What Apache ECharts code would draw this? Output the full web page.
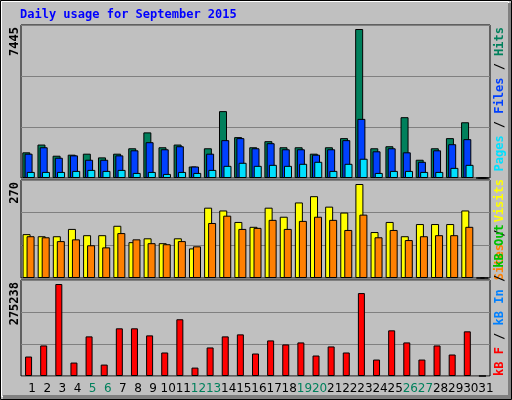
<!DOCTYPE html>
<html>
<head>
<meta charset="UTF-8">
<script src="https://cdn.jsdelivr.net/npm/echarts@6/dist/echarts.min.js"></script>
<style>body{margin:0;background:#c0c0c0}</style>
</head>
<body>
<div id="main" style="width:512px;height:400px;"></div>
<script>
// 日期
var days = [];
for (var i = 1; i <= 31; i++) days.push(String(i));
var weekend = [5, 6, 12, 13, 19, 20, 26, 27];

var hits  = [1283,1671,1114,1165,1215,1030,1215,1485,2279,1536,1671,574,1485,3342,2043,1536,1840,1536,1536,1215,1536,1992,7445,1485,1587,3039,912,1485,1992,2785,0];
var files = [1215,1536,1013,1131,912,912,1131,1384,1789,1435,1587,574,1215,1891,1992,1485,1739,1435,1435,1165,1435,1891,2954,1334,1485,1283,810,1384,1688,1941,0];
var pages = [304,304,304,355,405,355,405,253,304,203,304,253,405,608,760,608,658,608,709,810,355,709,962,253,355,355,304,304,506,658,0];
var visits = [126,120,120,141,123,123,150,103,114,100,114,85,202,194,161,147,202,176,217,235,205,188,270,132,161,120,155,155,155,194,0];
var sites  = [120,117,106,111,94,88,129,111,100,97,106,91,158,179,141,144,167,141,164,176,167,138,182,117,138,109,120,123,123,147,0];
var kbytes = [58262,91410,275238,40180,118531,34153,142639,142639,121544,70315,169760,25112,85383,118531,124558,67302,106477,94423,100450,61275,88396,70315,248112,49220,136612,100450,49220,91410,64288,133599,0];

var maxTop = 7445, maxMid = 270, maxBot = 275238;

var grids = [
    {left: 21, right: 22, top: 25, height: 153},
    {left: 21, right: 22, top: 180, height: 98},
    {left: 21, right: 22, top: 280, height: 96}
];
grids.forEach(function (g) {
    g.show = true; g.backgroundColor = '#c0c0c0'; g.borderColor = '#000'; g.borderWidth = 1;
});

function yAx(idx, m, frac) {
    var top = m * frac;
    return {gridIndex: idx, type: 'value', min: 0, max: top, interval: top / 3,
        axisLabel: {show: false}, axisLine: {show: false}, axisTick: {show: false},
        splitLine: {lineStyle: {color: '#808080', width: 1}}};
}
function xAx(idx, labels) {
    return {gridIndex: idx, type: 'category', data: days,
        axisLine: {show: false}, axisTick: {show: false},
        axisLabel: {show: labels, interval: 0, margin: 7, fontSize: 12,
            fontFamily: 'DejaVu Sans', padding: [0, 0, 0, 7],
            color: function (v) { return weekend.indexOf(+v) >= 0 ? '#00805c' : '#000'; }}};
}
function bar(name, idx, data, color, w, gap) {
    return {name: name, type: 'bar', xAxisIndex: idx, yAxisIndex: idx, data: data,
        barWidth: w, barGap: gap, animation: false,
        itemStyle: {color: color, borderColor: '#000', borderWidth: 1}};
}

var rot = Math.PI / 2;
var lf = 'bold 12px "DejaVu Sans Mono"';
function vtext(x, y, align, text, rich, color) {
    return {type: 'text', x: x, y: y, rotation: rot,
        style: {text: text, align: align, verticalAlign: 'middle', font: lf, fill: color || '#000', rich: rich}};
}
var rs = function (c) { return {fill: c, font: lf}; };

var option = {
    animation: false,
    grid: grids,
    xAxis: [xAx(0, false), xAx(1, false), xAx(2, true)],
    yAxis: [yAx(0, maxTop, 153 / 149), yAx(1, maxMid, 98 / 94), yAx(2, maxBot, 96 / 92)],
    series: [
        bar('Hits', 0, hits, '#00805c', 8, '-72%'),
        bar('Files', 0, files, '#0040ff', 8, '-72%'),
        bar('Pages', 0, pages, '#00e0ff', 8, '-72%'),
        bar('Visits', 1, visits, '#ffff00', 8, '-50%'),
        bar('Sites', 1, sites, '#ff8000', 8, '-50%'),
        bar('kB F', 2, kbytes, '#ff0000', 7, '0%')
    ],
    graphic: [
        {type: 'rect', shape: {x: 0.5, y: 0.5, width: 511, height: 399}, style: {fill: 'none', stroke: '#000'}},
        {type: 'rect', shape: {x: 1.5, y: 1.5, width: 507, height: 395}, style: {fill: 'none', stroke: '#fff'}},
        {type: 'rect', shape: {x: 3, y: 395, width: 508, height: 4}, style: {fill: '#808080'}},
        {type: 'rect', shape: {x: 508, y: 3, width: 3, height: 396}, style: {fill: '#808080'}},
        {type: 'text', x: 20, y: 15, style: {text: 'Daily usage for September 2015', font: 'bold 12px "DejaVu Sans Mono"', fill: '#0000ff', verticalAlign: 'middle'}},
        vtext(15, 27, 'right', '7445', null, '#000'),
        vtext(15, 182, 'right', '270', null, '#000'),
        vtext(15, 282, 'right', '275238', null, '#000'),
        Object.assign(vtext(500, 27, 'right', '{p|Pages}{s| / }{f|Files}{s| / }{h|Hits}', {p: rs('#00e0ff'), f: rs('#0040ff'), h: rs('#00805c'), s: rs('#000')}), {}),
        vtext(500, 179, 'right', '{o|Sites}{s| / }{v|Visits}', {o: rs('#ff8000'), v: rs('#ffff00'), s: rs('#000')}),
        vtext(500, 376, 'left', '{r|kB F}{s| / }{i|kB In}{s| / }{g|kB Out}', {r: rs('#ff0000'), i: rs('#0080ff'), g: rs('#00c000'), s: rs('#000')})
    ]
};
var chart = echarts.init(document.getElementById('main'));
chart.setOption(option);
</script>
</body>
</html>
